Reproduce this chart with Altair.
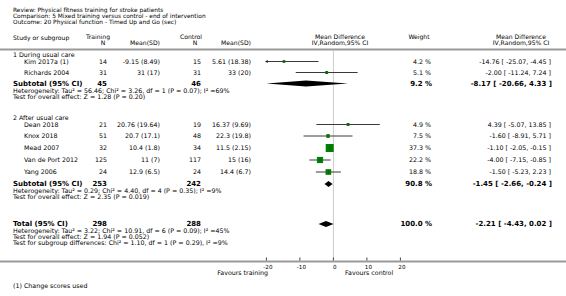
import altair as alt
import pandas as pd

# ---------------- data ----------------
title_lines = [
    "Review:  Physical fitness training for stroke patients",
    "Comparison:  5 Mixed training versus control - end of intervention",
    "Outcome:  20 Physical function - Timed Up and Go (sec)",
]
group_labels = ["1 During usual care", "2 After usual care"]
studies = ["Kim 2017a (1)", "Richards 2004", "Dean 2018", "Knox 2018",
           "Mead 2007", "Van de Port 2012", "Yang 2006"]
n_train = [14, 31, 21, 51, 32, 125, 24]
mean_train = [-9.15, 31, 20.76, 20.7, 10.4, 11, 12.9]
sd_train = [8.49, 17, 19.64, 17.1, 1.8, 7, 6.5]
n_ctrl = [15, 31, 19, 48, 34, 117, 24]
mean_ctrl = [5.61, 33, 16.37, 22.3, 11.5, 15, 14.4]
sd_ctrl = [18.38, 20, 9.69, 19.8, 2.15, 16, 6.7]
weight = [4.2, 5.1, 4.9, 7.5, 37.3, 22.2, 18.8]
md = [-14.76, -2.00, 4.39, -1.60, -1.10, -4.00, -1.50]
ci_low = [-25.07, -11.24, -5.07, -8.91, -2.05, -7.15, -5.23]
ci_high = [-4.45, 7.24, 13.85, 5.71, -0.15, -0.85, 2.23]

summary_labels = ["Subtotal (95% CI)", "Subtotal (95% CI)", "Total (95% CI)"]
summary_n_train = [45, 253, 298]
summary_n_ctrl = [46, 242, 288]
summary_weight = [9.2, 90.8, 100.0]
summary_md = [-8.17, -1.45, -2.21]
summary_low = [-20.66, -2.66, -4.43]
summary_high = [4.33, -0.24, 0.02]
summary_notes = [
    ["Heterogeneity: Tau\u00b2 = 56.46; Chi\u00b2 = 3.26, df = 1 (P = 0.07); I\u00b2 =69%",
     "Test for overall effect: Z = 1.28 (P = 0.20)"],
    ["Heterogeneity: Tau\u00b2 = 0.29; Chi\u00b2 = 4.40, df = 4 (P = 0.35); I\u00b2 =9%",
     "Test for overall effect: Z = 2.35 (P = 0.019)"],
    ["Heterogeneity: Tau\u00b2 = 3.22; Chi\u00b2 = 10.91, df = 6 (P = 0.09); I\u00b2 =45%",
     "Test for overall effect: Z = 1.94 (P = 0.052)",
     "Test for subgroup differences: Chi\u00b2 = 1.10, df = 1 (P = 0.29), I\u00b2 =9%"],
]
axis_ticks = [-20, -10, 0, 10, 20]
favours = ["Favours training", "Favours control"]
footnote = "(1) Change scores used"

# ---------------- layout (pixel rows / columns) ----------------
W, H = 566, 296
FONT = "DejaVu Sans"
TITLE_Y = [9.5, 15.5, 21.5]
HEAD_Y1, HEAD_Y2 = 36.5, 42.5
HEAD_RULE_Y = 49.5
GROUP_Y = [55, 117.5]
STUDY_Y = [61.5, 72.5, 124.5, 136, 148, 160, 172]
SUMMARY_Y = [83.5, 184, 224]
NOTE_Y = [[90.5, 96.5], [190.5, 197], [231, 237, 243]]
AXIS_Y = 261.5
TICKLAB_Y = 266.5
FAV_Y = 272.5
FOOT_Y = 286
X_LEFT, X_INDENT = 13, 24
X_NT, X_MT, X_NC, X_MC = 107, 160, 201, 251
X_MDHEAD, X_W, X_MD, X_MDTXT_C = 340, 431, 551, 521
PLOT_RANGE = [266.4, 400.4]
DIAMOND_HALF = 3

FS_TITLE, FS_HEAD, FS_ROW, FS_NOTE, FS_BOLD, FS_TICK = 5.9, 6.1, 6.3, 6.3, 7.0, 5.6

XS = alt.Scale(domain=[-20, 20], range=PLOT_RANGE, clamp=True)
YS = alt.Scale(domain=[0, H], range=[0, H])
TXT = "#000000"


def fmt(v):
    return f"{v:g}"


def text_layer(df, x, align="left", size=FS_ROW, bold=False, color=TXT, dx=0):
    return alt.Chart(df).mark_text(
        align=align, baseline="middle", fontSize=size, dx=dx,
        fontWeight="bold" if bold else "normal", font=FONT, color=color,
    ).encode(x=alt.value(x), y=alt.Y("y:Q", scale=YS, axis=None), text="t:N")


def tdf(texts, ys):
    return pd.DataFrame({"t": texts, "y": ys})


layers = []

# titles
layers.append(text_layer(tdf(title_lines, TITLE_Y), X_LEFT, size=FS_TITLE))

# headers
layers.append(text_layer(tdf(["Study or subgroup"], [HEAD_Y1 + 1]), X_LEFT, size=FS_HEAD))
layers.append(text_layer(tdf(["Training"], [HEAD_Y1]), 98, align="center", size=FS_HEAD))
layers.append(text_layer(tdf(["Control"], [HEAD_Y1]), 191, align="center", size=FS_HEAD))
layers.append(text_layer(tdf(["N"], [HEAD_Y2]), 103, align="center", size=FS_HEAD))
layers.append(text_layer(tdf(["N"], [HEAD_Y2]), 195, align="center", size=FS_HEAD))
layers.append(text_layer(tdf(["Mean(SD)"], [HEAD_Y2]), X_MT, align="right", size=FS_HEAD))
layers.append(text_layer(tdf(["Mean(SD)"], [HEAD_Y2]), X_MC, align="right", size=FS_HEAD))
layers.append(text_layer(tdf(["Mean Difference", "IV,Random,95% CI"], [HEAD_Y1, HEAD_Y2]),
                         X_MDHEAD, align="center", size=FS_HEAD))
layers.append(text_layer(tdf(["Weight"], [HEAD_Y1]), 419, align="center", size=FS_HEAD))
layers.append(text_layer(tdf(["Mean Difference", "IV,Random,95% CI"], [HEAD_Y1, HEAD_Y2]),
                         X_MDTXT_C, align="center", size=FS_HEAD))

# horizontal separators
one = pd.DataFrame({"a": [0]})
layers.append(alt.Chart(one).mark_rule(color="#9a9a9a", strokeWidth=2).encode(
    x=alt.value(0), x2=alt.value(W), y=alt.value(HEAD_RULE_Y)))
layers.append(alt.Chart(one).mark_rule(color="#9a9a9a", strokeWidth=2).encode(
    x=alt.value(0), x2=alt.value(W), y=alt.value(AXIS_Y)))

# zero line
layers.append(alt.Chart(pd.DataFrame({"x": [0]})).mark_rule(color="#cccccc", strokeWidth=1).encode(
    x=alt.X("x:Q", scale=XS, axis=None), y=alt.value(HEAD_RULE_Y + 1), y2=alt.value(AXIS_Y - 1)))

# group labels
layers.append(text_layer(tdf(group_labels, GROUP_Y), X_LEFT, size=FS_ROW))

# study rows
st = pd.DataFrame({
    "y": STUDY_Y,
    "name": studies,
    "nt": [str(v) for v in n_train],
    "mt": [f"{fmt(m)} ({fmt(s)})" for m, s in zip(mean_train, sd_train)],
    "nc": [str(v) for v in n_ctrl],
    "mc": [f"{fmt(m)} ({fmt(s)})" for m, s in zip(mean_ctrl, sd_ctrl)],
    "w": [f"{w:.1f} %" for w in weight],
    "mdt": [f"{m:.2f} [ {lo:.2f}, {hi:.2f} ]" for m, lo, hi in zip(md, ci_low, ci_high)],
    "weight": weight, "md": md, "lo": ci_low, "hi": ci_high,
})
for col, x, al in [("name", X_INDENT, "left"), ("nt", X_NT, "right"), ("mt", X_MT, "right"),
                   ("nc", X_NC, "right"), ("mc", X_MC, "right"), ("w", X_W, "right"),
                   ("mdt", X_MD, "right")]:
    layers.append(text_layer(st.rename(columns={col: "t"})[["t", "y"]], x, align=al))

# CI lines
layers.append(alt.Chart(st).mark_rule(color="#3a3a3a", strokeWidth=1).encode(
    x=alt.X("lo:Q", scale=XS, axis=None), x2="hi:Q", y=alt.Y("y:Q", scale=YS, axis=None)))
# arrows for clipped CIs
arr = st[st["lo"] < XS.domain[0]].assign(xa=XS.domain[0])
layers.append(alt.Chart(arr).mark_point(shape="triangle-left", filled=True, color="#222",
                                        size=10, opacity=1).encode(
    x=alt.X("xa:Q", scale=XS, axis=None), y=alt.Y("y:Q", scale=YS, axis=None)))
# weight squares
layers.append(alt.Chart(st).mark_square(color="#008000", opacity=1).encode(
    x=alt.X("md:Q", scale=XS, axis=None), y=alt.Y("y:Q", scale=YS, axis=None),
    size=alt.Size("weight:Q", scale=alt.Scale(domain=[0, 37.3], range=[0, 64]), legend=None)))
# point estimate ticks
layers.append(alt.Chart(st).mark_tick(color="#333", thickness=1, size=3, orient="vertical").encode(
    x=alt.X("md:Q", scale=XS, axis=None), y=alt.Y("y:Q", scale=YS, axis=None)))

# summary rows
sm = pd.DataFrame({
    "y": SUMMARY_Y,
    "name": summary_labels,
    "nt": [str(v) for v in summary_n_train],
    "nc": [str(v) for v in summary_n_ctrl],
    "w": [f"{w:.1f} %" for w in summary_weight],
    "mdt": [f"{m:.2f} [ {lo:.2f}, {hi:.2f} ]" for m, lo, hi in zip(summary_md, summary_low, summary_high)],
})
for col, x, al in [("name", X_LEFT, "left"), ("nt", X_NT, "right"), ("nc", X_NC, "right"),
                   ("w", X_W + 1, "right"), ("mdt", X_MD + 1, "right")]:
    layers.append(text_layer(sm.rename(columns={col: "t"})[["t", "y"]], x, align=al,
                             size=FS_BOLD, bold=True))

# notes
note_texts, note_ys = [], []
for notes, ys in zip(summary_notes, NOTE_Y):
    note_texts += notes
    note_ys += ys
layers.append(text_layer(tdf(note_texts, note_ys), X_LEFT, size=FS_NOTE))

# diamonds
drows = []
for k, (m, lo, hi, yc) in enumerate(zip(summary_md, summary_low, summary_high, SUMMARY_Y)):
    drows += [
        {"d": k, "x": lo, "y": yc, "y2": yc},
        {"d": k, "x": m, "y": yc - DIAMOND_HALF, "y2": yc + DIAMOND_HALF},
        {"d": k, "x": hi, "y": yc, "y2": yc},
    ]
layers.append(alt.Chart(pd.DataFrame(drows)).mark_area(color="#000", opacity=1, interpolate="linear").encode(
    x=alt.X("x:Q", scale=XS, axis=None), y=alt.Y("y:Q", scale=YS, axis=None), y2="y2:Q",
    detail="d:N"))

# axis ticks and labels
tk = pd.DataFrame({"x": axis_ticks, "t": [str(v) for v in axis_ticks]})
layers.append(alt.Chart(tk).mark_rule(color="#444", strokeWidth=1).encode(
    x=alt.X("x:Q", scale=XS, axis=None), y=alt.value(AXIS_Y - 4), y2=alt.value(AXIS_Y - 1)))
layers.append(alt.Chart(tk.assign(y=TICKLAB_Y)).mark_text(
    align="center", baseline="middle", fontSize=FS_TICK, font=FONT, color=TXT, dx=1.5).encode(
    x=alt.X("x:Q", scale=XS, axis=None), y=alt.Y("y:Q", scale=YS, axis=None), text="t:N"))

# favours labels
layers.append(text_layer(tdf([favours[0]], [FAV_Y]), 268, align="right", size=FS_ROW))
layers.append(text_layer(tdf([favours[1]], [FAV_Y]), 345, align="left", size=FS_ROW))

# footnote
layers.append(text_layer(tdf([footnote], [FOOT_Y]), X_LEFT, size=FS_ROW))

chart = alt.layer(*layers).properties(
    width=W, height=H, autosize="none", padding=0, background="white"
).configure_view(stroke=None)

chart.save("out.html", embed_options={"renderer": "svg", "actions": False})
